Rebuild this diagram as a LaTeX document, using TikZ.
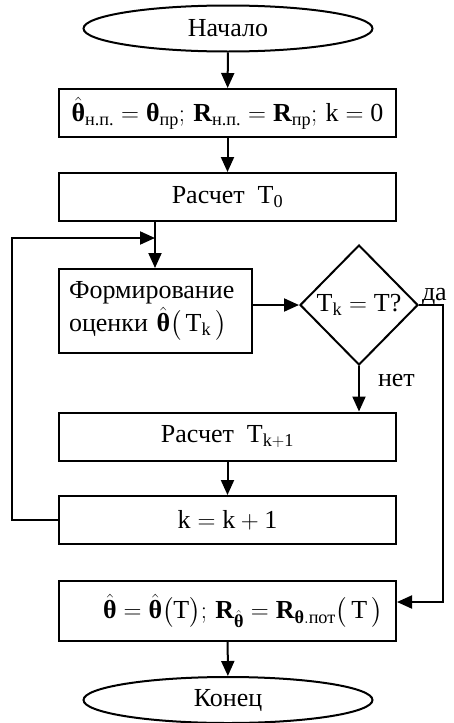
\documentclass[tikz,border=0pt]{standalone}
\usepackage{fontspec}
\usepackage{amsmath}
\setmainfont{Liberation Serif}
\usetikzlibrary{shapes.geometric,arrows.meta,calc}
\newcommand{\bth}{\text{\bfseries θ}}
\newcommand{\hbth}{\hat{\text{\bfseries θ}}}
\newcommand{\rT}{\mathrm{T}}
\newcommand{\rk}{\mathrm{k}}
\begin{document}
\begin{tikzpicture}[x=1pt,y=-1pt,line width=2pt,
  >={Triangle[length=15pt,width=13pt]},
  font=\fontsize{26}{33}\selectfont,
  box/.style={draw,rectangle,minimum width=337pt,minimum height=48pt,inner sep=0pt},
  term/.style={draw,ellipse,minimum width=289pt,minimum height=46pt,inner sep=0pt},
  dec/.style={draw,diamond,minimum width=118pt,minimum height=120pt,inner sep=0pt},
  lbl/.style={inner sep=0pt}]
\useasboundingbox (0,0) rectangle (454,723);
\node[term] (start) at (228,28.5) {Начало};
\node[box] (b1) at (227.5,113) {$\hbth_{\text{н.п.}}=\bth_{\text{пр}};\,\mathbf{R}_{\text{н.п.}}=\mathbf{R}_{\text{пр}};\,\rk=\mathrm{0}$};
\node[box] (b2) at (227.5,197) {Расчет\ \ $\rT_{\mathrm{0}}$};
\coordinate (join) at (155,238);
\node[draw,rectangle,minimum width=193pt,minimum height=84pt,inner sep=0pt,inner xsep=10pt,text width=173pt,align=left] (b3) at (155.5,311) {Формирование\\оценки $\hbth\bigl(\,\rT_{\rk}\,\bigr)$};
\node[dec] (d) at (359,305) {$\rT_{\rk}=\rT\text{?}$};
\node[box] (b4) at (227.5,436.5) {Расчет\ \ $\rT_{\rk+\mathrm{1}}$};
\node[box] (b5) at (227.5,520) {$\rk=\rk+\mathrm{1}$};
\node[box,minimum height=60pt] (b6) at (227.5,611) {};
\node[lbl] (t6) at (243,611) {$\hbth=\hbth\bigl(\rT\bigr);\,\mathbf{R}_{\hbth}=\mathbf{R}_{\bth.\text{пот}}\bigl(\,\rT\,\bigr)$};
\node[term] (end) at (228,700) {Конец};
\node[lbl,anchor=base west] (yes) at (421,300) {да};
\node[lbl,anchor=base west] (no) at (377,386) {нет};
\coordinate (ycorner) at (443,305);
\coordinate (yin) at (443,602);
\coordinate (lcorner1) at (12,520);
\coordinate (lcorner2) at (12,238);
% connectors
\draw[->] (start) -- (b1);
\draw[->] (b1) -- (b2);
\draw (b2.south -| join) -- (join);
\draw[->] (join) -- (b3.north -| join);
\draw[->] (b3.east |- d.west) -- (d.west);
\draw[->] (d.south) -- (b4.north -| d.south);
\draw[->] (b4) -- (b5);
\draw[->] (b5.west) -- (lcorner1) -- (lcorner2) -- (join);
\draw[->] (d.east) -- (ycorner) -- (yin) -- (yin -| b6.east);
\draw[->] (b6) -- (end);
\end{tikzpicture}
\end{document}
